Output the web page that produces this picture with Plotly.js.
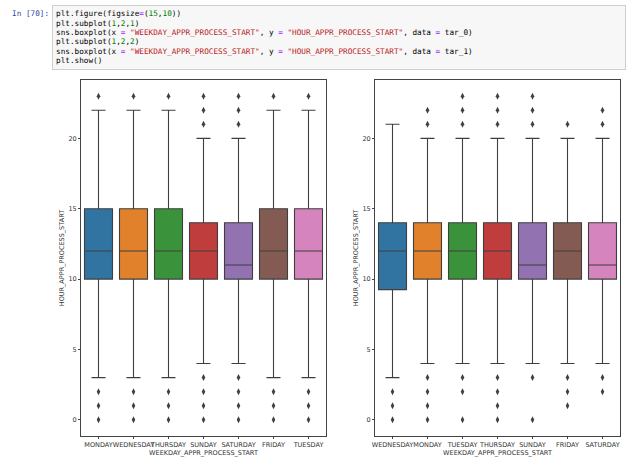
<!DOCTYPE html>
<html>
<head>
<meta charset="utf-8">
<script src="https://cdn.plot.ly/plotly-3.0.1.min.js"></script>
<style>
  html, body { margin: 0; padding: 0; background: #fff; }
  #wrap { position: relative; width: 629px; height: 457px; overflow: hidden; }
  #chart { position: absolute; left: 0; top: 0; width: 629px; height: 457px; }
  #prompt { position: absolute; left: 12px; top: 5px; font-family: "DejaVu Sans Mono", monospace; font-size: 7.7px; line-height: 9.4px; padding-top: 4.3px; color: #303f9f; white-space: pre; }
  #cell { position: absolute; left: 52px; top: 5px; width: 574px; height: 65px; box-sizing: border-box; background: #f7f7f7; border: 1px solid #cfcfcf; font-family: "DejaVu Sans Mono", monospace; font-size: 7.7px; line-height: 9.4px; padding: 3.3px 0 0 3px; color: #000; white-space: normal; overflow: hidden; }
  #cell .ln { height: 9.4px; white-space: pre; }
  .s { color: #ba2121; } .n { color: #008000; } .o { color: #aa22ff; }
</style>
</head>
<body>
<div id="wrap">
  <div id="chart"></div>
  <div id="prompt">In [70]:</div>
  <div id="cell"><div class="ln"><span>plt.figure(figsize</span><span class="o">=</span><span>(</span><span class="n">15</span><span>,</span><span class="n">10</span><span>))</span></div><div class="ln"><span>plt.subplot(</span><span class="n">1</span><span>,</span><span class="n">2</span><span>,</span><span class="n">1</span><span>)</span></div><div class="ln"><span>sns.boxplot(x </span><span class="o">=</span><span> </span><span class="s">"WEEKDAY_APPR_PROCESS_START"</span><span>, y </span><span class="o">=</span><span> </span><span class="s">"HOUR_APPR_PROCESS_START"</span><span>, data </span><span class="o">=</span><span> tar_0)</span></div><div class="ln"><span>plt.subplot(</span><span class="n">1</span><span>,</span><span class="n">2</span><span>,</span><span class="n">2</span><span>)</span></div><div class="ln"><span>sns.boxplot(x </span><span class="o">=</span><span> </span><span class="s">"WEEKDAY_APPR_PROCESS_START"</span><span>, y </span><span class="o">=</span><span> </span><span class="s">"HOUR_APPR_PROCESS_START"</span><span>, data </span><span class="o">=</span><span> tar_1)</span></div><div class="ln"><span>plt.show()</span></div></div>
</div>
<script>
// ---- Left panel (tar_0) ----
const cats0 = ["MONDAY", "WEDNESDAY", "THURSDAY", "SUNDAY", "SATURDAY", "FRIDAY", "TUESDAY"];
const q1_0 = [10, 10, 10, 10, 10, 10, 10];
const med0 = [12, 12, 12, 12, 11, 12, 12];
const q3_0 = [15, 15, 15, 14, 14, 15, 15];
const lo0  = [3, 3, 3, 4, 4, 3, 3];
const hi0  = [22, 22, 22, 20, 20, 22, 22];
const out0 = [
  [0, 1, 2, 23],
  [0, 1, 2, 23],
  [0, 1, 2, 23],
  [0, 1, 2, 3, 21, 22, 23],
  [0, 1, 2, 3, 21, 22, 23],
  [0, 1, 2, 23],
  [0, 1, 2, 23]
];

// ---- Right panel (tar_1) ----
const cats1 = ["WEDNESDAY", "MONDAY", "TUESDAY", "THURSDAY", "SUNDAY", "FRIDAY", "SATURDAY"];
const q1_1 = [9.25, 10, 10, 10, 10, 10, 10];
const med1 = [12, 12, 12, 12, 11, 12, 11];
const q3_1 = [14, 14, 14, 14, 14, 14, 14];
const lo1  = [3, 4, 4, 4, 4, 4, 4];
const hi1  = [21, 20, 20, 20, 20, 20, 20];
const out1 = [
  [0, 1, 2],
  [0, 1, 2, 3, 21, 22],
  [0, 2, 3, 21, 22, 23],
  [0, 1, 2, 3, 21, 22, 23],
  [0, 3, 21, 22, 23],
  [1, 2, 3, 21],
  [2, 3, 21, 22]
];

const palette = ["#3274a1", "#e1812c", "#3a923a", "#c03d3e", "#9372b2", "#845b53", "#d684bd"];
const lineGray = "#3f3f3f";

const traces = [];
function addPanel(cats, q1, med, q3, lo, hi, outs, xa, ya) {
  cats.forEach((c, i) => {
    traces.push({
      type: "box", x: [c], q1: [q1[i]], median: [med[i]], q3: [q3[i]],
      lowerfence: [lo[i]], upperfence: [hi[i]],
      xaxis: xa, yaxis: ya, width: 0.8, whiskerwidth: 0.5,
      fillcolor: palette[i], line: { color: lineGray, width: 1.1 },
      boxpoints: false, hoverinfo: "skip", showlegend: false
    });
    traces.push({
      type: "scatter", mode: "markers", x: outs[i].map(() => c), y: outs[i],
      xaxis: xa, yaxis: ya,
      marker: { symbol: "diamond-tall", size: 5, color: lineGray },
      hoverinfo: "skip", showlegend: false
    });
  });
}
addPanel(cats0, q1_0, med0, q3_0, lo0, hi0, out0, "x", "y");
addPanel(cats1, q1_1, med1, q3_1, lo1, hi1, out1, "x2", "y2");

const tickFont = { family: "DejaVu Sans, sans-serif", size: 6.5, color: "#333" };
const yTop = 1 - 80 / 457, yBot = 1 - 436 / 457;
function xax(dom, cats) {
  return {
    domain: dom, type: "category", categoryorder: "array", categoryarray: cats,
    range: [-0.5, 6.5], showline: true, mirror: true, linecolor: "#444", linewidth: 1,
    ticks: "outside", ticklen: 2, tickcolor: "#444", tickfont: tickFont, tickangle: 0,
    showgrid: false, zeroline: false, fixedrange: true,
    title: { text: "WEEKDAY_APPR_PROCESS_START", font: tickFont, standoff: 2 }
  };
}
function yax(anchor) {
  return {
    domain: [yBot, yTop], anchor: anchor, range: [-1.15, 24.15],
    tickvals: [0, 5, 10, 15, 20], ticktext: ["0", "5", "10", "15", "20"],
    showline: true, mirror: true, linecolor: "#444", linewidth: 1,
    ticks: "outside", ticklen: 2, tickcolor: "#444", tickfont: tickFont,
    showgrid: false, zeroline: false, fixedrange: true,
    title: { text: "HOUR_APPR_PROCESS_START", font: tickFont, standoff: 3 }
  };
}
const layout = {
  width: 629, height: 457,
  margin: { l: 0, r: 0, t: 0, b: 0 },
  paper_bgcolor: "#fff", plot_bgcolor: "#fff",
  boxmode: "overlay", showlegend: false,
  xaxis: Object.assign(xax([81 / 629, 326 / 629], cats0), { anchor: "y" }),
  yaxis: yax("x"),
  xaxis2: Object.assign(xax([375 / 629, 620 / 629], cats1), { anchor: "y2" }),
  yaxis2: yax("x2")
};
Plotly.newPlot("chart", traces, layout, { displayModeBar: false, staticPlot: true });
</script>
</body>
</html>
